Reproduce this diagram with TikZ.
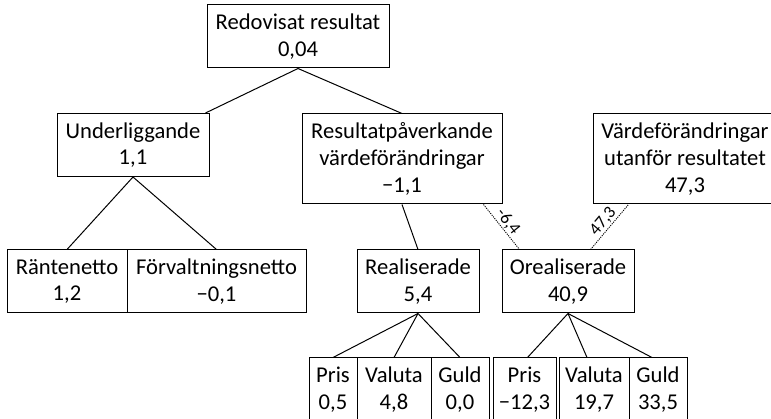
\documentclass[tikz,border=0pt]{standalone}
\usepackage{fontspec}
\setmainfont{Carlito}
\begin{document}
\begin{tikzpicture}[x=1pt,y=1pt,
  box/.style={draw=black,line width=1pt,align=center,minimum height=63pt,
    font=\fontsize{22.6}{26.7}\selectfont},
  tallbox/.style={box,minimum height=90pt},
  link/.style={black,line width=1pt},
  flow/.style={black,line width=0.9pt,dash pattern=on 1.1pt off 1.1pt},
  flowlabel/.style={sloped,above,inner sep=1pt,font=\fontsize{17.5}{20}\selectfont}]
\tikzstyle{every node}+=[inner sep=0pt]
\useasboundingbox (0,0) rectangle (771,-419);
% top
\node [box,minimum width=182pt] (res) at (298,-36.5) {Redovisat resultat\\0,04};
% second row
\node [box,minimum width=152pt] (und) at (133,-145) {Underliggande\\1,1};
\node [tallbox,minimum width=200pt] (rpv) at (402,-159) {Resultatpåverkande\\värdeförändringar\\−1,1};
\node [tallbox,minimum width=184pt] (vut) at (685,-159) {Värdeförändringar\\utanför resultatet\\47,3};
% third row
\node [box,minimum width=120pt] (rnt) at (67,-281.5) {Räntenetto\\1,2};
\node [box,minimum width=179pt] (fvn) at (216.5,-281.5) {Förvaltningsnetto\\−0,1};
\node [box,minimum width=122pt] (real) at (418,-281.5) {Realiserade\\5,4};
\node [box,minimum width=132pt] (oreal) at (568,-281.5) {Orealiserade\\40,9};
% bottom row
\node [box,minimum width=48pt] (pris1) at (333,-389.5) {Pris\\0,5};
\node [box,minimum width=74pt] (val1) at (394,-389.5) {Valuta\\4,8};
\node [box,minimum width=58pt] (guld1) at (460,-389.5) {Guld\\0,0};
\node [box,minimum width=63pt] (pris2) at (524.5,-389.5) {Pris\\−12,3};
\node [box,minimum width=70pt] (val2) at (594,-389.5) {Valuta\\19,7};
\node [box,minimum width=58pt] (guld2) at (658,-389.5) {Guld\\33,5};
% connectors
\draw [link] (res.south) -- ([xshift=-4pt]und.north east);
\draw [link] (res.south) -- (rpv.north);
\draw [link] (und.south) -- (rnt.north);
\draw [link] (und.south) -- (fvn.north);
\draw [link] (rpv.south) -- (real.north);
\draw [link] (real.south) -- (pris1.north);
\draw [link] (real.south) -- (val1.north);
\draw [link] (real.south) -- (guld1.north);
\draw [link] (oreal.south) -- ([xshift=3pt]pris2.north);
\draw [link] (oreal.south) -- ([xshift=-7pt]val2.north);
\draw [link] (oreal.south) -- ([xshift=-6pt]guld2.north);
\draw [flow] ([xshift=-19pt]rpv.south east) -- ([xshift=18pt]oreal.north west)
  node [flowlabel,midway] {-6,4};
\draw [flow] ([xshift=-44pt]oreal.north east) -- ([xshift=36pt]vut.south west)
  node [flowlabel,midway] {47,3};
\end{tikzpicture}
\end{document}
